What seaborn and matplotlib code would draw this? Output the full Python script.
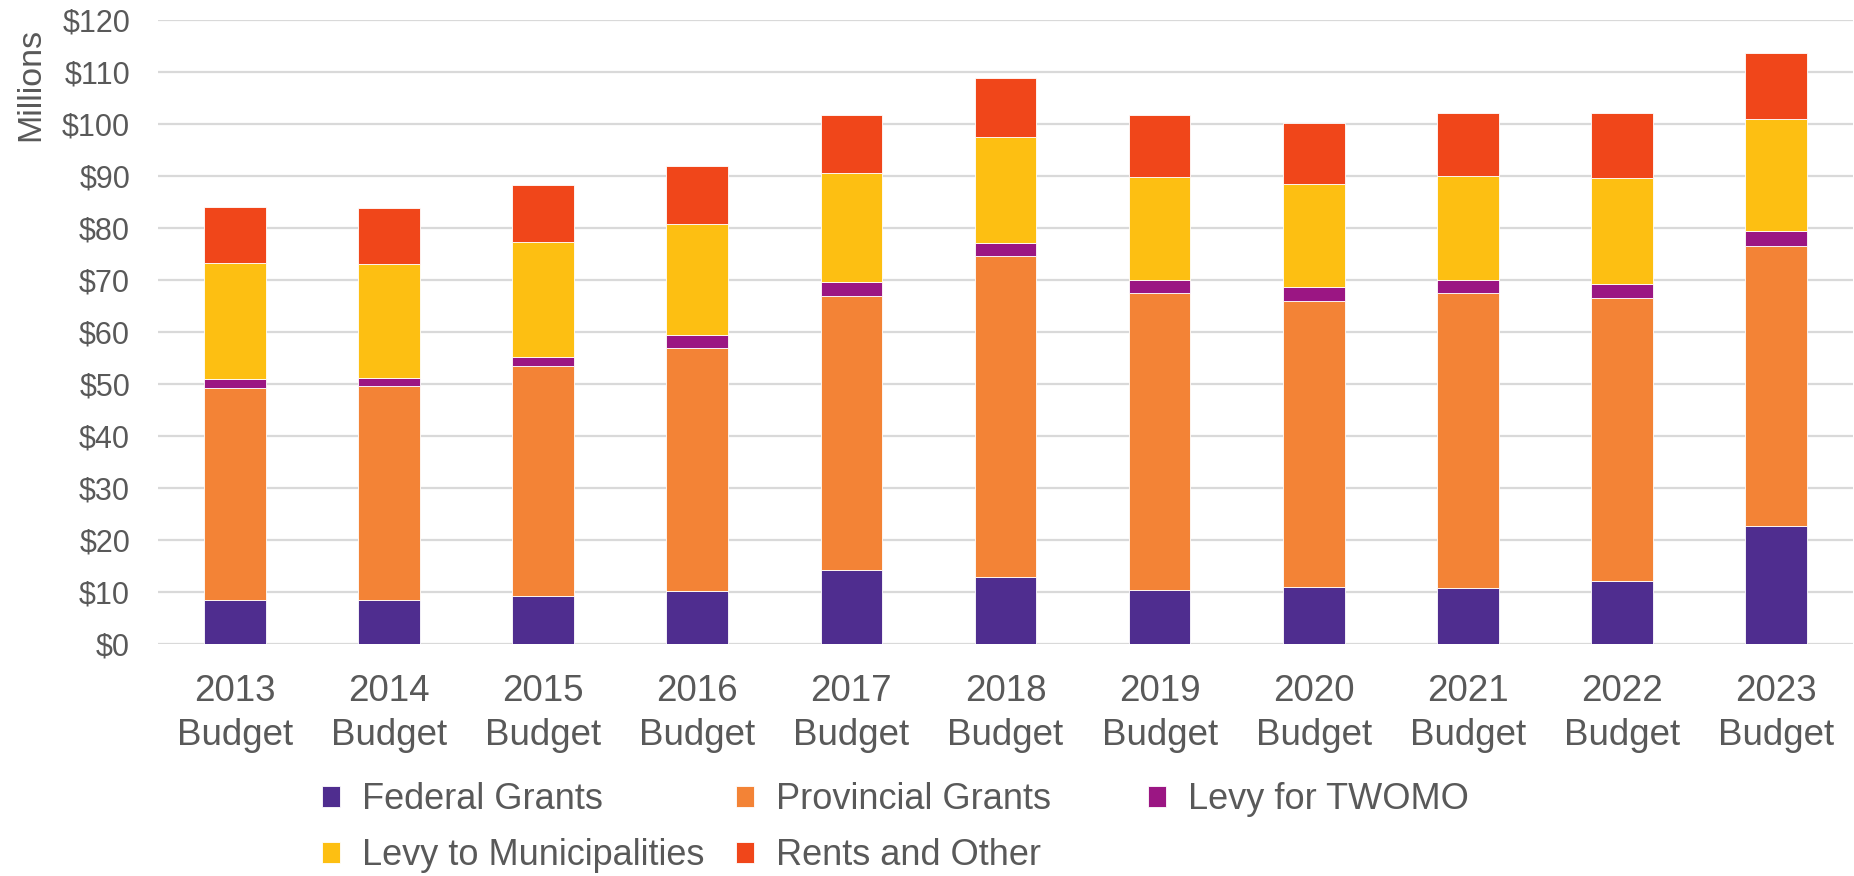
import numpy as np
import seaborn as sns
import matplotlib.pyplot as plt
from matplotlib.ticker import StrMethodFormatter

years = ['2013', '2014', '2015', '2016', '2017', '2018', '2019', '2020', '2021', '2022', '2023']
federal = [8.5, 8.5, 9.2, 10.1, 14.3, 12.8, 10.4, 10.9, 10.8, 12.0, 22.6]
provincial = [40.7, 41.1, 44.2, 46.8, 52.7, 61.8, 57.2, 55.1, 56.7, 54.6, 54.0]
twomo = [1.7, 1.5, 1.7, 2.6, 2.6, 2.5, 2.5, 2.6, 2.6, 2.7, 2.8]
levy_muni = [22.3, 22.0, 22.2, 21.3, 20.9, 20.4, 19.8, 19.9, 20.0, 20.4, 21.5]
rents = [10.8, 10.7, 10.9, 11.2, 11.3, 11.4, 11.8, 11.7, 12.0, 12.4, 12.8]

series = [
    ('Federal Grants', federal, '#4F2D8F'),
    ('Provincial Grants', provincial, '#F38336'),
    ('Levy for TWOMO', twomo, '#9B1683'),
    ('Levy to Municipalities', levy_muni, '#FDBF12'),
    ('Rents and Other', rents, '#F0461A'),
]

sns.set_theme(style='white')
plt.rcParams['font.family'] = ['Liberation Sans', 'DejaVu Sans']
grey = '#595959'

fig = plt.figure(figsize=(18.54, 8.76), dpi=100)
ax = fig.add_axes([0.0852, 0.265, 0.9143, 0.712])

bottom = np.zeros(len(years))
for name, vals, color in series:
    sns.barplot(x=years, y=vals, bottom=bottom.copy(), color=color, width=0.4,
                saturation=1, edgecolor='white', linewidth=0.6, label=name, ax=ax)
    bottom += np.array(vals)
if ax.get_legend() is not None:
    ax.get_legend().remove()

ax.set_xlim(-0.5, 10.5)
ax.set_ylim(0, 120)
ax.set_yticks(range(0, 121, 10))
ax.yaxis.set_major_formatter(StrMethodFormatter('${x:.0f}'))
ax.set_xticks(range(len(years)))
ax.set_xticklabels([y + '\nBudget' for y in years], linespacing=1.3)
ax.yaxis.grid(True, color='#D9D9D9', linewidth=1.6)
ax.set_axisbelow(True)
for s in ax.spines.values():
    s.set_visible(False)
ax.tick_params(axis='both', length=0, labelcolor=grey)
ax.tick_params(axis='y', pad=20, labelsize=22)
ax.tick_params(axis='x', pad=22, labelsize=26.5)
ax.set_xlabel('')
ax.set_ylabel('')

fig.text(30.5 / 1854, 1 - 28 / 876, 'Millions', rotation=90, ha='center', va='top',
         fontsize=24.5, color=grey)

handles, labels = ax.get_legend_handles_labels()
h = dict(zip(labels, handles))
kw = dict(frameon=False, fontsize=26, labelcolor=grey, handlelength=0.5,
          handleheight=0.5, handletextpad=0.6, borderpad=0, borderaxespad=0,
          labelspacing=0.58, loc='upper left')
columns = [
    (322, ['Federal Grants', 'Levy to Municipalities']),
    (736, ['Provincial Grants', 'Rents and Other']),
    (1148, ['Levy for TWOMO']),
]
for x0, names in columns:
    fig.legend([h[n] for n in names], names,
               bbox_to_anchor=(x0 / 1854, 0.107), **kw)

fig.savefig('out.png', dpi=100)
